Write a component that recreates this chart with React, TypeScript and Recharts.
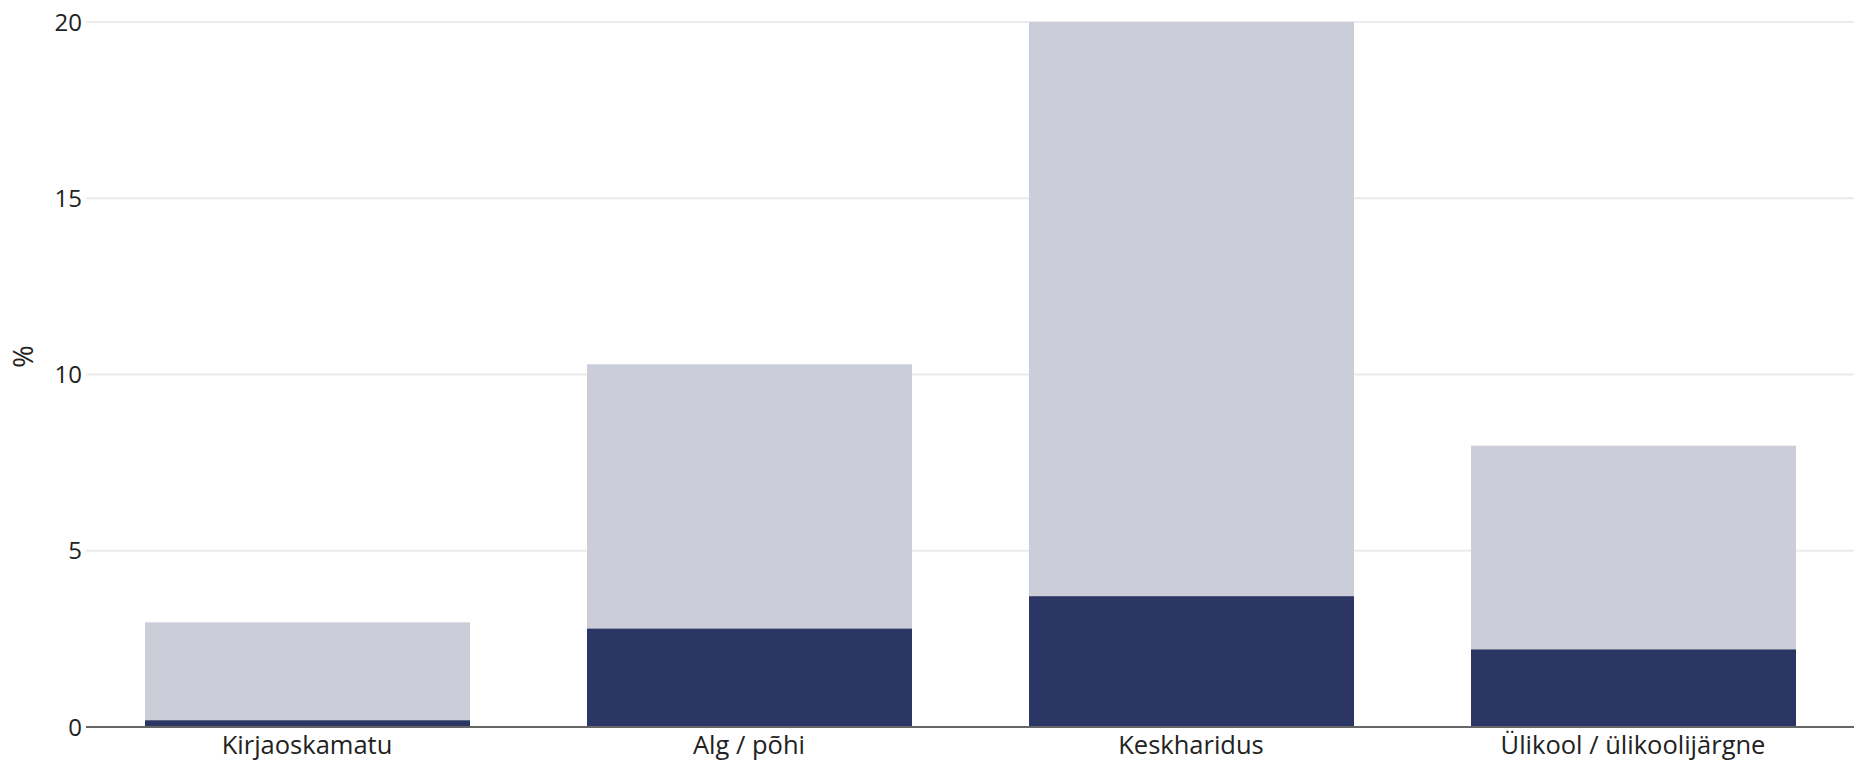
import React from 'react';
import { BarChart, Bar, XAxis, YAxis, CartesianGrid, Label } from 'recharts';

const categories = ['Kirjaoskamatu', 'Alg / põhi', 'Keskharidus', 'Ülikool / ülikoolijärgne'];
const totalValues = [2.97, 10.29, 20.0, 7.98];
const subsetValues = [0.19, 2.79, 3.71, 2.2];
const yTicks = [0, 5, 10, 15, 20];

const data = categories.map((name, i) => ({ name, total: totalValues[i], subset: subsetValues[i] }));

const FONT = '"Open Sans", Lato, sans-serif';
const BAR_W = 325;

// bars in the reference run a few pixels past the zero line
const ExtendedBar = (props: any) => {
    const { x, y, width, height, fill } = props;
    if (!height || height <= 0) return null;
    return <rect x={x} y={y} width={width} height={height + 4} fill={fill} />;
};

const PercentLabel = (props: any) => {
    const { viewBox } = props;
    const cx = viewBox.x + 22;
    const cy = viewBox.y + viewBox.height / 2 - 18;
    return (
        <text x={cx} y={cy} transform={`rotate(-90, ${cx}, ${cy})`} textAnchor="middle" dominantBaseline="central"
            fontSize={27} fontFamily={FONT} fill="#222">
            %
        </text>
    );
};

export default function App() {
    return (
        <div style={{ width: 1854, height: 763, background: '#fff' }}>
            <style>{`body{margin:0}`}</style>
            <BarChart width={1854} height={763} data={data} margin={{ top: 22, right: 0, bottom: 0, left: 0 }}
                barSize={BAR_W} barGap={-BAR_W}>
                <CartesianGrid vertical={false} stroke="#ebebeb" strokeWidth={2} />
                <XAxis dataKey="name" height={36} tickSize={0} tickMargin={9} interval={0}
                    axisLine={{ stroke: '#666', strokeWidth: 2 }}
                    tick={{ fontSize: 25.5, fill: '#222', fontFamily: FONT }} />
                <YAxis width={86} domain={[0, 20]} ticks={yTicks} tickSize={0} tickMargin={4} axisLine={false}
                    allowDataOverflow
                    tick={{ fontSize: 24, fill: '#222', fontFamily: FONT }}>
                    <Label content={<PercentLabel />} />
                </YAxis>
                <Bar dataKey="total" fill="#cbcdd9" isAnimationActive={false} shape={<ExtendedBar />} />
                <Bar dataKey="subset" fill="#2b3664" isAnimationActive={false} shape={<ExtendedBar />} />
            </BarChart>
        </div>
    );
}
